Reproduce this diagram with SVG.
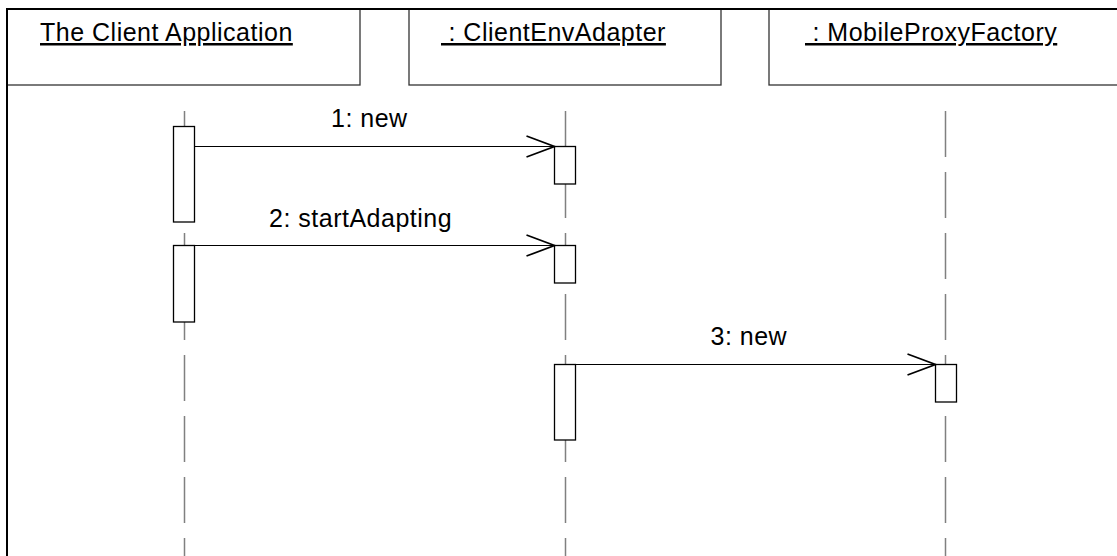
<svg xmlns="http://www.w3.org/2000/svg" width="1117" height="556" viewBox="0 0 1117 556">
  <style>
    .lbl { font-family: "Liberation Sans", Arial, sans-serif; font-size: 25px; letter-spacing: 0.5px; fill: #000; }
    .hdr { text-decoration: underline; }
    .head { fill: #fff; stroke: #333; stroke-width: 1.3; }
    .life { stroke: #808080; stroke-width: 1.5; stroke-dasharray: 46 15; fill: none; }
    .act { fill: #fff; stroke: #000; stroke-width: 1.3; }
    .msg { stroke: #000; stroke-width: 1.2; fill: none; }
  </style>
  <defs>
    <marker id="open" viewBox="-30 -13 32 26" markerWidth="32" markerHeight="26" refX="0" refY="0" markerUnits="userSpaceOnUse" orient="auto">
      <path d="M -28 -10.5 L 0 0 L -28 10.5" fill="none" stroke="#000" stroke-width="1.8"/>
    </marker>
  </defs>
  <rect width="1117" height="556" fill="#fff"/>

  <g id="clientApp">
    <rect class="head" x="7" y="9" width="353" height="76"/>
    <text class="lbl hdr" x="40" y="41">The Client Application</text>
    <line class="life" x1="184.5" y1="111" x2="184.5" y2="556"/>
    <rect class="act" x="173.5" y="126.5" width="21" height="95.5"/>
    <rect class="act" x="173.5" y="245.5" width="21" height="76.5"/>
  </g>

  <g id="clientEnvAdapter">
    <rect class="head" x="409" y="9" width="312" height="76"/>
    <text class="lbl hdr" x="441" y="41" xml:space="preserve"> : ClientEnvAdapter</text>
    <line class="life" x1="565.5" y1="111" x2="565.5" y2="556"/>
    <rect class="act" x="554.5" y="146.5" width="21" height="37.5"/>
    <rect class="act" x="554.5" y="245.5" width="21" height="37.5"/>
    <rect class="act" x="554.5" y="364.5" width="21" height="75.5"/>
  </g>

  <g id="mobileProxyFactory">
    <rect class="head" x="769" y="9" width="360" height="76"/>
    <text class="lbl hdr" x="805" y="41" xml:space="preserve"> : MobileProxyFactory</text>
    <line class="life" x1="945.5" y1="111" x2="945.5" y2="556"/>
    <rect class="act" x="935.5" y="364.5" width="21" height="37.5"/>
  </g>

  <g id="connectors">
    <line class="msg" x1="194.5" y1="146.5" x2="554.5" y2="146.5" marker-end="url(#open)"/>
    <text class="lbl" x="331" y="126.7">1: new</text>
    <line class="msg" x1="194.5" y1="245.5" x2="554.5" y2="245.5" marker-end="url(#open)"/>
    <text class="lbl" x="269" y="226.7">2: startAdapting</text>
    <line class="msg" x1="575.5" y1="364.5" x2="935.5" y2="364.5" marker-end="url(#open)"/>
    <text class="lbl" x="710.5" y="345">3: new</text>
  </g>

  <rect id="frame" x="7" y="9" width="1200" height="600" fill="none" stroke="#000" stroke-width="2"/>
</svg>
